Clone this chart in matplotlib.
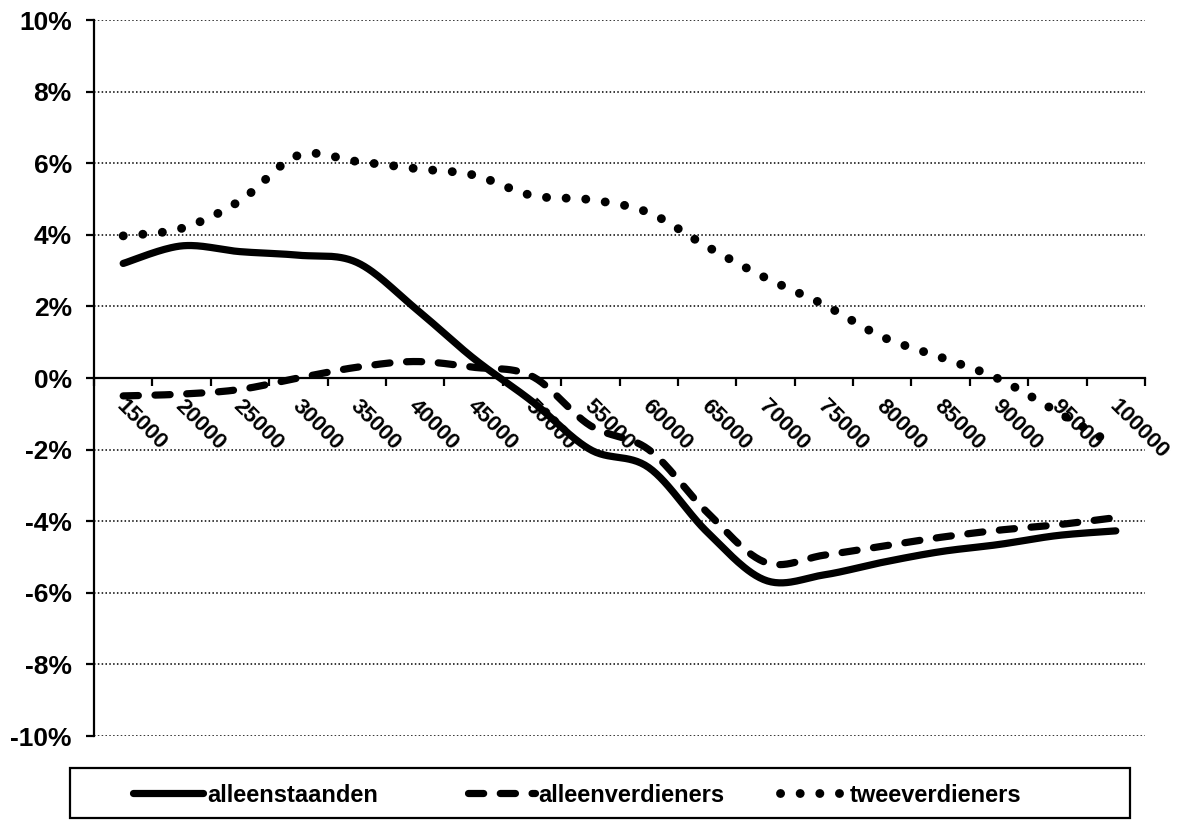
import numpy as np
import matplotlib
matplotlib.use("Agg")
import matplotlib.pyplot as plt
import matplotlib.transforms as mtransforms
from matplotlib.patches import Rectangle
from matplotlib.lines import Line2D

plt.rcParams["font.family"] = ["Liberation Sans", "DejaVu Sans"]
plt.rcParams["font.weight"] = "bold"

incomes = [15000, 20000, 25000, 30000, 35000, 40000, 45000, 50000, 55000,
           60000, 65000, 70000, 75000, 80000, 85000, 90000, 95000, 100000]
alleenstaanden = [3.2, 3.69, 3.53, 3.43, 3.23, 1.95, 0.55, -0.65, -2.0,
                  -2.5, -4.3, -5.65, -5.5, -5.15, -4.85, -4.65, -4.4, -4.27]
alleenverdieners = [-0.5, -0.45, -0.32, 0.0, 0.3, 0.46, 0.3, 0.05, -1.33,
                    -2.0, -3.75, -5.15, -4.95, -4.7, -4.45, -4.25, -4.1, -3.9]
tweeverdieners = [3.97, 4.18, 4.95, 6.22, 6.05, 5.85, 5.67, 5.1, 4.98,
                  4.62, 3.67, 2.8, 2.05, 1.15, 0.58, -0.03, -0.95, -1.9]
y_ticks = [-10, -8, -6, -4, -2, 0, 2, 4, 6, 8, 10]


def smooth(values, steps=30):
    """Catmull-Rom style smoothing through every point."""
    y = np.asarray(values, dtype=float)
    x = np.arange(len(y), dtype=float)
    xs, ys = [], []
    n = len(y)
    for i in range(n - 1):
        p0 = (x[max(i - 1, 0)], y[max(i - 1, 0)])
        p1 = (x[i], y[i])
        p2 = (x[i + 1], y[i + 1])
        p3 = (x[min(i + 2, n - 1)], y[min(i + 2, n - 1)])
        c1 = (p1[0] + (p2[0] - p0[0]) / 6, p1[1] + (p2[1] - p0[1]) / 6)
        c2 = (p2[0] - (p3[0] - p1[0]) / 6, p2[1] - (p3[1] - p1[1]) / 6)
        t = np.linspace(0, 1, steps, endpoint=(i == n - 2))
        for a, b in ((0, xs), (1, ys)):
            b.extend((1 - t) ** 3 * p1[a] + 3 * (1 - t) ** 2 * t * c1[a]
                     + 3 * (1 - t) * t ** 2 * c2[a] + t ** 3 * p2[a])
    return np.array(xs), np.array(ys)


W, H = 1184, 825
fig = plt.figure(figsize=(W / 100, H / 100), dpi=100)
ax = fig.add_axes([94 / W, 1 - 736 / H, (1145 - 94) / W, (736 - 20) / H])

names = ["alleenstaanden", "alleenverdieners", "tweeverdieners"]
values = [alleenstaanden, alleenverdieners, tweeverdieners]
styles = [
    dict(linewidth=5.2, linestyle="-", solid_capstyle="round"),
    dict(linewidth=5.2, linestyle=(0, (2.1, 2.3)), dash_capstyle="round"),
    dict(linewidth=6.4, linestyle=(0, (0.01, 2.2)), dash_capstyle="round"),
]
for vals, st in zip(values, styles):
    sx, sy = smooth(vals)
    ax.plot(sx, sy, color="black", zorder=3, **st)

n = len(incomes)
ax.set_xlim(-0.5, n - 0.5)
ax.set_ylim(-10, 10)

# Horizontal dotted gridlines
for v in y_ticks:
    if v != 0:
        ax.axhline(v, color="black", linewidth=1.1, linestyle=(0, (1, 1.5)), zorder=1)

for s in ("top", "right"):
    ax.spines[s].set_visible(False)
ax.spines["bottom"].set_position(("data", 0))
ax.spines["bottom"].set_linewidth(1.6)
ax.spines["left"].set_linewidth(1.6)

ax.set_yticks(y_ticks)
ax.set_yticklabels([f"{v}%" for v in y_ticks], fontsize=19, fontweight="bold")
ax.tick_params(axis="y", direction="out", length=6, width=1.6, pad=10)

ax.set_xticks(np.arange(n + 1) - 0.5)
ax.set_xticklabels([])
ax.tick_params(axis="x", which="major", direction="out", length=6, width=1.6)
ax.set_xticks(np.arange(n), minor=True)
ax.set_xticklabels([str(v) for v in incomes], minor=True, rotation=-45,
                   ha="left", va="top", rotation_mode="anchor",
                   fontsize=16, fontweight="bold")
ax.tick_params(axis="x", which="minor", length=0, pad=13)
shift = mtransforms.ScaledTranslation(4 / 100, 0, fig.dpi_scale_trans)
for lbl in ax.get_xticklabels(minor=True):
    lbl.set_transform(lbl.get_transform() + shift)

# Legend below the chart, inside a plain rectangle
fig.patches.append(Rectangle((70 / W, 1 - 818 / H), 1060 / W, 50 / H,
                             transform=fig.transFigure, fill=False,
                             edgecolor="black", linewidth=1.6))
legend_y = 1 - 793 / H
handle_spans = [(133, 203), (468, 535), (780, 843)]
text_x = [207, 538, 850]
for (x0, x1), tx, name, st in zip(handle_spans, text_x, names, styles):
    fig.add_artist(Line2D([x0 / W, x1 / W], [legend_y, legend_y],
                          transform=fig.transFigure, color="black", **st))
    fig.text(tx / W, legend_y, name, ha="left", va="center_baseline",
             fontsize=17, fontweight="bold")

fig.savefig("out.png", dpi=100)
